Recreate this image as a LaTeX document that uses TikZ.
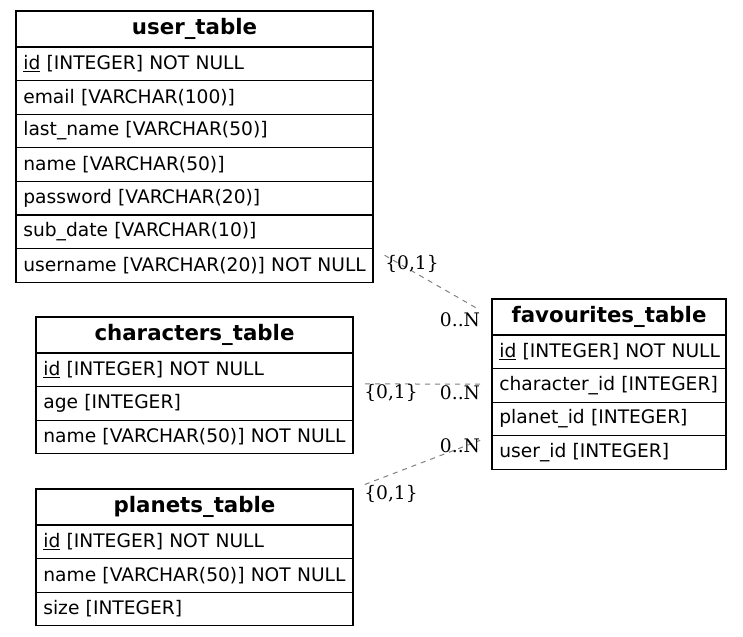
\documentclass[tikz,border=0pt]{standalone}
\usepackage{fontspec}
\setmainfont{DejaVu Sans}
\newfontfamily\cardfont{DejaVu Serif}
\usepackage{tikz}
\usetikzlibrary{positioning}
\usepackage{xcolor}
\definecolor{linkgray}{RGB}{128,128,128}
\tikzset{
  tabhead/.style={rectangle, draw=black, line width=0.9pt, outer sep=0pt, inner xsep=5.5pt,
    minimum height=27pt, text width=#1, align=center, font=\fontsize{16}{19}\selectfont\bfseries},
  tabrow/.style={rectangle, draw=black, line width=0.9pt, outer sep=0pt, inner xsep=5.5pt,
    minimum height=25.2pt, text width=#1, align=left, font=\fontsize{14}{17}\selectfont,
    execute at begin node={\hbox\bgroup}, execute at end node={\egroup}},
  card/.style={font=\cardfont\fontsize{14}{17}\selectfont, inner sep=0pt},
  link/.style={draw=linkgray, line width=0.75pt, dash pattern=on 3.75pt off 3.75pt},
}

\begin{document}
\begin{tikzpicture}[x=0.75pt, y=-0.75pt]
\useasboundingbox (0,0) rectangle (743,636);

% user_table
\node[tabhead=256.75pt, anchor=north west] (usr-title) at (16,11) {user\_table};
\node[tabrow=256.75pt, below=0pt of usr-title] (usr-id) {\underline{id} [INTEGER] NOT NULL};
\node[tabrow=256.75pt, below=0pt of usr-id] (usr-email) {email [VARCHAR(100)]};
\node[tabrow=256.75pt, below=0pt of usr-email] (usr-lastname) {last\_name [VARCHAR(50)]};
\node[tabrow=256.75pt, below=0pt of usr-lastname] (usr-name) {name [VARCHAR(50)]};
\node[tabrow=256.75pt, below=0pt of usr-name] (usr-password) {password [VARCHAR(20)]};
\node[tabrow=256.75pt, below=0pt of usr-password] (usr-subdate) {sub\_date [VARCHAR(10)]};
\node[tabrow=256.75pt, below=0pt of usr-subdate] (usr-username) {username [VARCHAR(20)] NOT NULL};

% characters_table
\node[tabhead=226.75pt, anchor=north west] (chr-title) at (36,317) {characters\_table};
\node[tabrow=226.75pt, below=0pt of chr-title] (chr-id) {\underline{id} [INTEGER] NOT NULL};
\node[tabrow=226.75pt, below=0pt of chr-id] (chr-age) {age [INTEGER]};
\node[tabrow=226.75pt, below=0pt of chr-age] (chr-name) {name [VARCHAR(50)] NOT NULL};

% planets_table
\node[tabhead=226.75pt, anchor=north west] (pln-title) at (36,489) {planets\_table};
\node[tabrow=226.75pt, below=0pt of pln-title] (pln-id) {\underline{id} [INTEGER] NOT NULL};
\node[tabrow=226.75pt, below=0pt of pln-id] (pln-name) {name [VARCHAR(50)] NOT NULL};
\node[tabrow=226.75pt, below=0pt of pln-name] (pln-size) {size [INTEGER]};

% favourites_table
\node[tabhead=164.5pt, anchor=north west] (fav-title) at (492,299) {favourites\_table};
\node[tabrow=164.5pt, below=0pt of fav-title] (fav-id) {\underline{id} [INTEGER] NOT NULL};
\node[tabrow=164.5pt, below=0pt of fav-id] (fav-character) {character\_id [INTEGER]};
\node[tabrow=164.5pt, below=0pt of fav-character] (fav-planet) {planet\_id [INTEGER]};
\node[tabrow=164.5pt, below=0pt of fav-planet] (fav-user) {user\_id [INTEGER]};

% relations
\draw[link, shorten <=10pt, shorten >=13pt] (usr-username.north east) -- (fav-title.west);
\draw[link, shorten <=9pt, shorten >=9pt] ([yshift=2pt]chr-id.south east) -- ([yshift=1pt]fav-character.west);
\draw[link, shorten <=9.5pt, shorten >=9.5pt] (pln-title.north east) -- (fav-user.north west);

% cardinalities
\node[card] (usr-card) at (412,264) {\{0,1\}};
\node[card] (fav-card-usr) at (460,320) {0..N};
\node[card] (chr-card) at (391,393) {\{0,1\}};
\node[card] (fav-card-chr) at (460,393) {0..N};
\node[card] (pln-card) at (391,494) {\{0,1\}};
\node[card] (fav-card-pln) at (460,446) {0..N};

\end{tikzpicture}
\end{document}
